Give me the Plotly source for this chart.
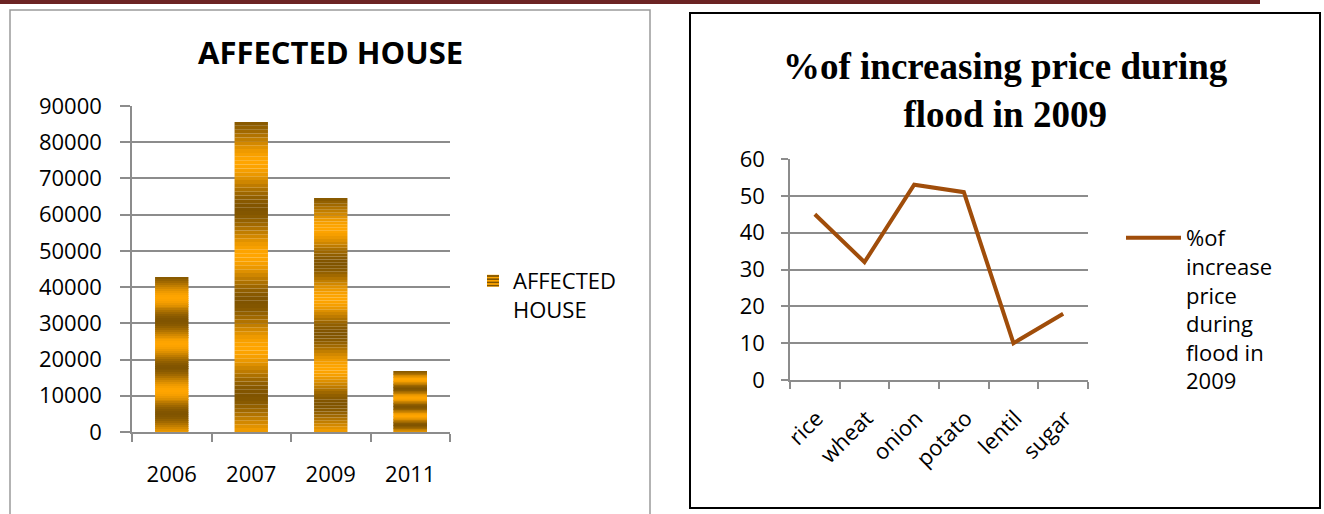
import numpy as np
import plotly.graph_objects as go

# ---------------- data ----------------
years = ["2006", "2007", "2009", "2011"]
affected_house = [42800, 85600, 64600, 16800]

crops = ["rice", "wheat", "onion", "potato", "lentil", "sugar"]
price_increase = [45, 32, 53, 51, 10, 18]

W, H = 1324, 514
FONT = "Open Sans"

def px(x):
    return x / W

def py(y):
    return (H - y) / H

# ------------- gradient bar segments (style only) -------------
N_SEG = 80
ORANGE = np.array([255, 165, 0])
DARK = np.array([128, 84, 0])

def seg_color(f):
    t = (1 + np.cos(2 * np.pi * (f - 0.12) / 0.3)) / 2
    c = ORANGE + (DARK - ORANGE) * t
    return "rgb(%d,%d,%d)" % tuple(np.round(c).astype(int))

seg_x, seg_y, seg_base, seg_col = [], [], [], []
for yr, v in zip(years, affected_house):
    step = v / N_SEG
    for k in range(N_SEG):
        seg_x.append(yr)
        seg_y.append(step)
        seg_base.append(step * k)
        seg_col.append(seg_color((k + 0.5) / N_SEG))

fig = go.Figure()

fig.add_trace(go.Bar(
    x=seg_x, y=seg_y, base=seg_base,
    marker=dict(color=seg_col, line=dict(width=0)),
    showlegend=False, hoverinfo="skip",
    xaxis="x", yaxis="y",
))
# legend entry for the bar series
fig.add_trace(go.Bar(
    x=[years[0]], y=[0], name="AFFECTED<br>HOUSE",
    marker=dict(color="#FFA500", line=dict(width=0),
                pattern=dict(shape="-", bgcolor="#FFA500", fgcolor="#7F5400",
                             fgopacity=1, size=4, solidity=0.5)),
    legend="legend", xaxis="x", yaxis="y", hoverinfo="skip",
))

fig.add_trace(go.Scatter(
    x=crops, y=price_increase, mode="lines",
    name="%of<br>increase<br>price<br>during<br>flood in<br>2009",
    line=dict(color="#A04D0A", width=4),
    xaxis="x2", yaxis="y2", legend="legend2", hoverinfo="skip",
))

grid = "#8C8C8C"
axis_font = dict(family=FONT, size=22, color="#000000")

fig.update_layout(
    width=W, height=H,
    margin=dict(l=0, r=0, t=0, b=0, pad=0, autoexpand=False),
    paper_bgcolor="white", plot_bgcolor="white",
    barmode="overlay", bargap=0.58,
    xaxis=dict(domain=[px(132), px(450)], anchor="y", type="category",
               range=[-0.5, len(years) - 0.5],
               showline=True, linecolor=grid, linewidth=1.5,
               ticks="outside", ticklen=8, tickcolor=grid, tickwidth=1.5,
               tickson="boundaries", showgrid=False, automargin=False,
               tickfont=axis_font, ticklabelstandoff=22),
    yaxis=dict(domain=[py(432), py(106)], anchor="x", range=[0, 90000],
               dtick=10000, tickformat="d", showgrid=True, gridcolor=grid,
               gridwidth=1.5, automargin=False,
               showline=True, linecolor=grid, linewidth=1.5,
               ticks="outside", ticklen=10, tickcolor=grid, tickwidth=1.5,
               tickfont=axis_font, ticklabelstandoff=14, zeroline=False),
    xaxis2=dict(domain=[px(790), px(1088)], anchor="y2", type="category",
                range=[-0.5, len(crops) - 0.5],
                showline=True, linecolor=grid, linewidth=1.5,
                ticks="outside", ticklen=7, tickcolor=grid, tickwidth=1.5,
                tickson="boundaries", showgrid=False, tickangle=-45,
                automargin=False, tickfont=axis_font, ticklabelstandoff=15,
                ticklabelshift=2),
    yaxis2=dict(domain=[py(380), py(159)], anchor="x2", range=[0, 60],
                dtick=10, showgrid=True, gridcolor=grid, gridwidth=1.5,
                showline=True, linecolor=grid, linewidth=1.5, automargin=False,
                ticks="outside", ticklen=7, tickcolor=grid, tickwidth=1.5,
                tickfont=axis_font, ticklabelstandoff=12, zeroline=False),
    legend=dict(x=px(473), y=py(260), xanchor="left", yanchor="top",
                font=dict(family=FONT, size=22, color="#000"),
                bgcolor="rgba(0,0,0,0)", valign="top", tracegroupgap=0),
    legend2=dict(x=px(1121), y=py(217), xanchor="left", yanchor="top",
                 font=dict(family=FONT, size=22, color="#000"),
                 bgcolor="rgba(0,0,0,0)", valign="top", itemwidth=55),
    annotations=[
        dict(text="<b>AFFECTED HOUSE</b>", x=px(330), y=py(52),
             xref="paper", yref="paper", xanchor="center", yanchor="middle",
             showarrow=False, font=dict(family=FONT, size=31, color="#000")),
        dict(text="<b>%of increasing price during<br>flood in 2009</b>",
             x=px(1005), y=py(90), xref="paper", yref="paper",
             xanchor="center", yanchor="middle", showarrow=False,
             font=dict(family="Liberation Serif", size=37, color="#000")),
    ],
    shapes=[
        dict(type="rect", xref="paper", yref="paper",
             x0=0, x1=px(1260), y0=py(4), y1=1,
             fillcolor="#6B2323", line=dict(width=0), layer="above"),
        dict(type="rect", xref="paper", yref="paper",
             x0=px(10), x1=px(650), y0=py(530), y1=py(10),
             fillcolor="rgba(0,0,0,0)", line=dict(color="#9A9A9A", width=1.5)),
        dict(type="rect", xref="paper", yref="paper",
             x0=px(690), x1=px(1320), y0=py(508), y1=py(13),
             fillcolor="rgba(0,0,0,0)", line=dict(color="#000000", width=2)),
    ],
)

fig.write_html("out.html")
